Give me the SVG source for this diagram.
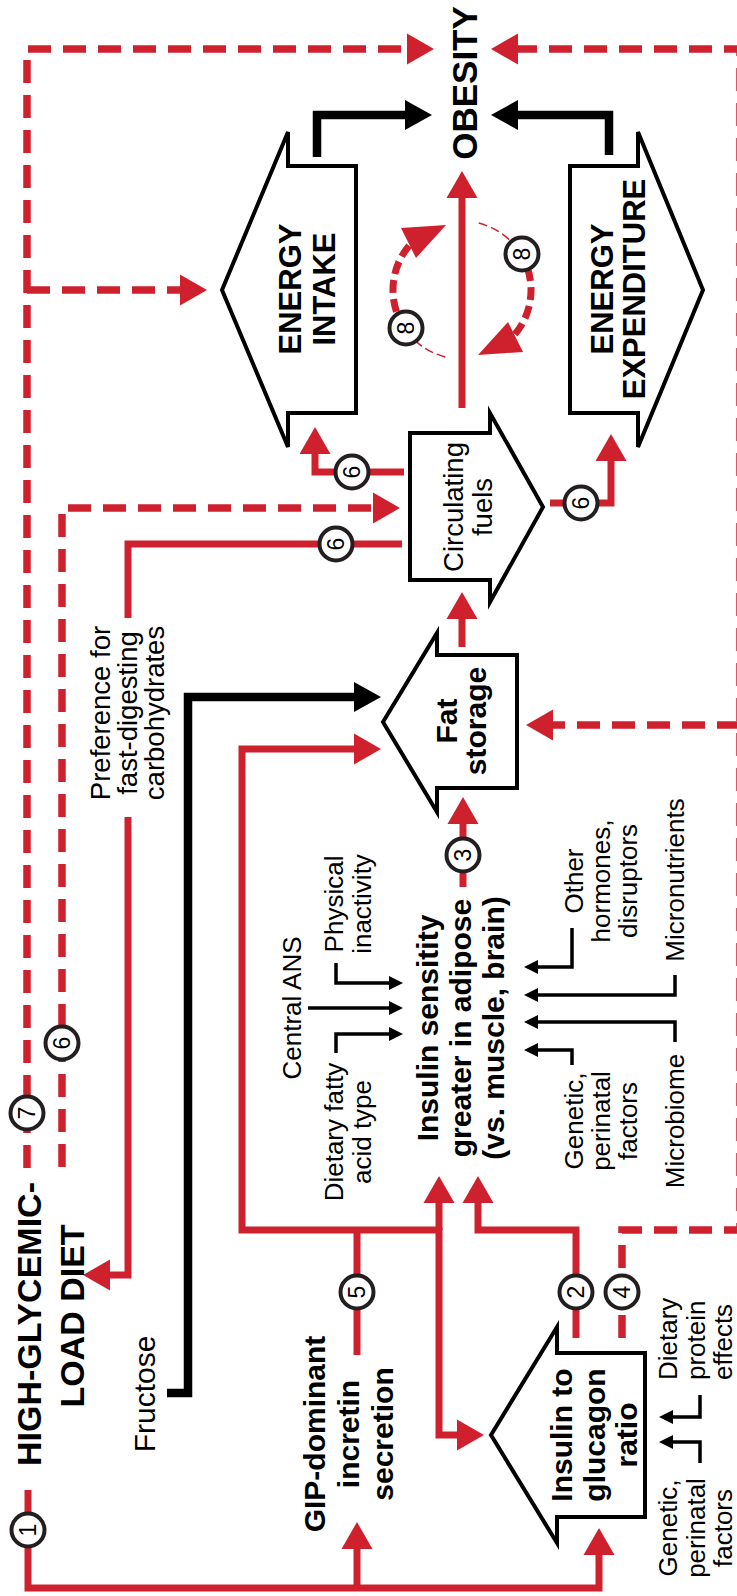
<svg xmlns="http://www.w3.org/2000/svg" width="737" height="1596" viewBox="0 0 737 1596">
<defs>
<style>
text{font-family:"Liberation Sans",Arial,Helvetica,sans-serif;fill:#000;text-anchor:middle}
.b{font-weight:bold}
.box{fill:#fff;stroke:#000;stroke-width:4;stroke-linejoin:miter}
.rs{fill:none;stroke:#cf202e;stroke-width:7}
.rd{fill:none;stroke:#cf202e;stroke-width:7.5;stroke-dasharray:23 12}
.bk{fill:none;stroke:#000;stroke-width:8.5}
.bt{fill:none;stroke:#000;stroke-width:3.5}
.arc{fill:none;stroke:#cf202e;stroke-width:7;stroke-dasharray:13 6}
.thin{fill:none;stroke:#cf202e;stroke-width:1.5;stroke-dasharray:9 4}
.head{fill:#cf202e}
.num circle{fill:#fff;stroke:#231f20;stroke-width:4}
.num text{font-size:23px}
.r26{font-size:26px}
</style>
<marker id="ra" markerUnits="userSpaceOnUse" viewBox="-2 -16 30 32" markerWidth="30" markerHeight="32" refX="0" refY="0" orient="auto" overflow="visible"><path d="M-1,-15.5 L26,0 L-1,15.5 z" fill="#cf202e"/></marker>
<marker id="ka" markerUnits="userSpaceOnUse" viewBox="-2 -16 30 32" markerWidth="30" markerHeight="32" refX="0" refY="0" orient="auto" overflow="visible"><path d="M-1,-15 L26,0 L-1,15 z" fill="#000"/></marker>
<marker id="sa" markerUnits="userSpaceOnUse" viewBox="-2 -8 16 16" markerWidth="16" markerHeight="16" refX="0" refY="0" orient="auto" overflow="visible"><path d="M-1,-7 L13,0 L-1,7 z" fill="#000"/></marker>
</defs>
<rect width="737" height="1596" fill="#fff"/>

<g id="connectors">
<path class="rd" d="M27,1168 L27,49 L408,49" marker-end="url(#ra)"/>
<path class="rd" d="M27,290 L181,290" marker-end="url(#ra)"/>
<path class="rd" d="M62,1167 L62,508 L374,508" marker-end="url(#ra)"/>
<path class="rd" d="M622,1338 L622,1230 L740,1230 L740,49 L517,49" marker-end="url(#ra)"/>
<path class="rd" d="M740,725 L552,725" marker-end="url(#ra)"/>
<path class="rs" d="M462,408 L462,197" marker-end="url(#ra)"/>
<path class="rs" d="M462,647 L462,618" marker-end="url(#ra)"/>
<path class="rs" d="M463,887 L463,823" marker-end="url(#ra)"/>
<path class="rs" d="M404,472 L315,472 L315,453" marker-end="url(#ra)"/>
<path class="rs" d="M550,503 L611,503 L611,460" marker-end="url(#ra)"/>
<path class="rs" d="M402,544 L128,544 L128,618"/>
<path class="rs" d="M128,817 L128,1275 L109,1275" marker-end="url(#ra)"/>
<path class="rs" d="M439,1230 L242,1230 L242,749 L355,749" marker-end="url(#ra)"/>
<path class="rs" d="M357,1355 L357,1230"/>
<path class="rs" d="M439,1230 L439,1202" marker-end="url(#ra)"/>
<path class="rs" d="M439,1228 L439,1435 L458,1435" marker-end="url(#ra)"/>
<path class="rs" d="M576,1338 L576,1230 L478,1230 L478,1202" marker-end="url(#ra)"/>
<path class="rs" d="M28,1490 L28,1588 L599,1588 L599,1554" marker-end="url(#ra)"/>
<path class="rs" d="M357,1588 L357,1548" marker-end="url(#ra)"/>
<path class="bk" d="M317,157 L317,115 L406,115" marker-end="url(#ka)"/>
<path class="bk" d="M609,155 L609,115 L517,115" marker-end="url(#ka)"/>
<path class="bk" d="M167,1393 L188,1393 L188,697 L355,697" marker-end="url(#ka)"/>
<path class="bt" d="M336,963 L336,983 L390,983" marker-end="url(#sa)"/>
<path class="bt" d="M308,1008 L390,1008" marker-end="url(#sa)"/>
<path class="bt" d="M336,1053 L336,1034 L390,1034" marker-end="url(#sa)"/>
<path class="bt" d="M572,928 L572,967 L537,967" marker-end="url(#sa)"/>
<path class="bt" d="M675,975 L675,995 L537,995" marker-end="url(#sa)"/>
<path class="bt" d="M675,1042 L675,1022 L537,1022" marker-end="url(#sa)"/>
<path class="bt" d="M572,1065 L572,1050 L537,1050" marker-end="url(#sa)"/>
<path class="bt" d="M700,1395 L700,1417 L672,1417" marker-end="url(#sa)"/>
<path class="bt" d="M700,1463 L700,1442 L672,1442" marker-end="url(#sa)"/>
<path class="thin" d="M445.3,356.9 A69,69 0 0 1 404.8,328.6"/>
<path class="arc" d="M404.8,328.6 A69,69 0 0 1 409.9,244.7"/>
<polygon class="head" points="446,225 401,228 416,258"/>
<path class="thin" d="M478.7,223.1 A69,69 0 0 1 519.2,251.4"/>
<path class="arc" d="M519.2,251.4 A69,69 0 0 1 514.1,335.3"/>
<polygon class="head" points="478,355 523,352 508,322"/>
</g>

<g id="obesity"><text class="b" font-size="35" transform="translate(477,83) rotate(-90)">OBESITY</text></g>

<g id="energy-intake">
<polygon class="box" points="222,290 288,132 288,166 356,166 356,413 288,413 288,447"/>
<text class="b" font-size="31" transform="translate(301,289) rotate(-90)"><tspan x="0" y="0">ENERGY</tspan><tspan x="0" y="34">INTAKE</tspan></text>
</g>

<g id="energy-expenditure">
<polygon class="box" points="703,290 638,132 638,166 570,166 570,413 638,413 638,447"/>
<text class="b" font-size="31" transform="translate(613,289) rotate(-90)"><tspan x="0" y="0">ENERGY</tspan><tspan x="0" y="32">EXPENDITURE</tspan></text>
</g>

<g id="circulating-fuels">
<polygon class="box" points="410,433 490,433 490,413 543,507 490,602 490,580 410,580"/>
<text font-size="27.5" transform="translate(463,507) rotate(-90)"><tspan x="0" y="0">Circulating</tspan><tspan x="0" y="29">fuels</tspan></text>
</g>

<g id="fat-storage">
<polygon class="box" points="383,722 437,633 437,655 517,655 517,788 437,788 437,812"/>
<text class="b" font-size="30" transform="translate(457,721) rotate(-90)"><tspan x="0" y="0">Fat</tspan><tspan x="0" y="29">storage</tspan></text>
</g>

<g id="preference">
<text font-size="27.5" transform="translate(110,713) rotate(-90)"><tspan x="0" y="0">Preference for</tspan><tspan x="0" y="27">fast-digesting</tspan><tspan x="0" y="54">carbohydrates</tspan></text>
</g>

<g id="insulin-sensitivity">
<text class="b" font-size="30" transform="translate(438,1028) rotate(-90)"><tspan x="0" y="0">Insulin sensitity</tspan><tspan x="0" y="33">greater in adipose</tspan><tspan x="0" y="66">(vs. muscle, brain)</tspan></text>
</g>

<g id="central-ans"><text class="r26" transform="translate(301,1008) rotate(-90)">Central ANS</text></g>
<g id="physical-inactivity"><text class="r26" transform="translate(343,904) rotate(-90)"><tspan x="0" y="0">Physical</tspan><tspan x="0" y="28">inactivity</tspan></text></g>
<g id="dietary-fatty-acid"><text class="r26" transform="translate(343,1132) rotate(-90)"><tspan x="0" y="0">Dietary fatty</tspan><tspan x="0" y="28">acid type</tspan></text></g>
<g id="other-hormones"><text class="r26" transform="translate(583,881) rotate(-90)"><tspan x="0" y="0">Other</tspan><tspan x="0" y="27">hormones,</tspan><tspan x="0" y="54">disruptors</tspan></text></g>
<g id="micronutrients"><text class="r26" transform="translate(684,880) rotate(-90)">Micronutrients</text></g>
<g id="microbiome"><text class="r26" transform="translate(684,1121) rotate(-90)">Microbiome</text></g>
<g id="genetic-1"><text class="r26" transform="translate(583,1121) rotate(-90)"><tspan x="0" y="0">Genetic,</tspan><tspan x="0" y="27">perinatal</tspan><tspan x="0" y="54">factors</tspan></text></g>

<g id="diet"><text class="b" font-size="34" transform="translate(41,1324) rotate(-90)"><tspan x="0" y="0">HIGH-GLYCEMIC-</tspan><tspan x="8" y="43">LOAD DIET</tspan></text></g>
<g id="fructose"><text font-size="30" transform="translate(155,1394) rotate(-90)">Fructose</text></g>
<g id="gip"><text class="b" font-size="30" transform="translate(325,1434) rotate(-90)"><tspan x="0" y="0">GIP-dominant</tspan><tspan x="0" y="34">incretin</tspan><tspan x="0" y="68">secretion</tspan></text></g>

<g id="insulin-glucagon">
<polygon class="box" points="491,1435 557,1327 557,1353 645,1353 645,1517 557,1517 557,1543"/>
<text class="b" font-size="30" transform="translate(572,1435) rotate(-90)"><tspan x="0" y="0">Insulin to</tspan><tspan x="0" y="33">glucagon</tspan><tspan x="0" y="65">ratio</tspan></text>
</g>
<g id="dietary-protein"><text class="r26" style="text-anchor:start" transform="translate(677,1380) rotate(-90)"><tspan x="0" y="0">Dietary</tspan><tspan x="0" y="28">protein</tspan><tspan x="0" y="55">effects</tspan></text></g>
<g id="genetic-2"><text class="r26" transform="translate(677,1528) rotate(-90)"><tspan x="0" y="0">Genetic,</tspan><tspan x="0" y="28">perinatal</tspan><tspan x="0" y="55">factors</tspan></text></g>

<g id="markers">
<g class="num" transform="translate(28,1530)"><circle r="16.5"/><text transform="rotate(-90)" y="8">1</text></g>
<g class="num" transform="translate(576,1292)"><circle r="16.5"/><text transform="rotate(-90)" y="8">2</text></g>
<g class="num" transform="translate(463,855)"><circle r="16.5"/><text transform="rotate(-90)" y="8">3</text></g>
<g class="num" transform="translate(622,1292)"><circle r="16.5"/><text transform="rotate(-90)" y="8">4</text></g>
<g class="num" transform="translate(357,1292)"><circle r="16.5"/><text transform="rotate(-90)" y="8">5</text></g>
<g class="num" transform="translate(352,472)"><circle r="16.5"/><text transform="rotate(-90)" y="8">6</text></g>
<g class="num" transform="translate(581,503)"><circle r="16.5"/><text transform="rotate(-90)" y="8">6</text></g>
<g class="num" transform="translate(336,544)"><circle r="16.5"/><text transform="rotate(-90)" y="8">6</text></g>
<g class="num" transform="translate(62,1043)"><circle r="16.5"/><text transform="rotate(-90)" y="8">6</text></g>
<g class="num" transform="translate(27,1113)"><circle r="16.5"/><text transform="rotate(-90)" y="8">7</text></g>
<g class="num" transform="translate(406,328)"><circle r="16.5"/><text transform="rotate(-90)" y="8">8</text></g>
<g class="num" transform="translate(522,254)"><circle r="16.5"/><text transform="rotate(-90)" y="8">8</text></g>
</g>
</svg>
